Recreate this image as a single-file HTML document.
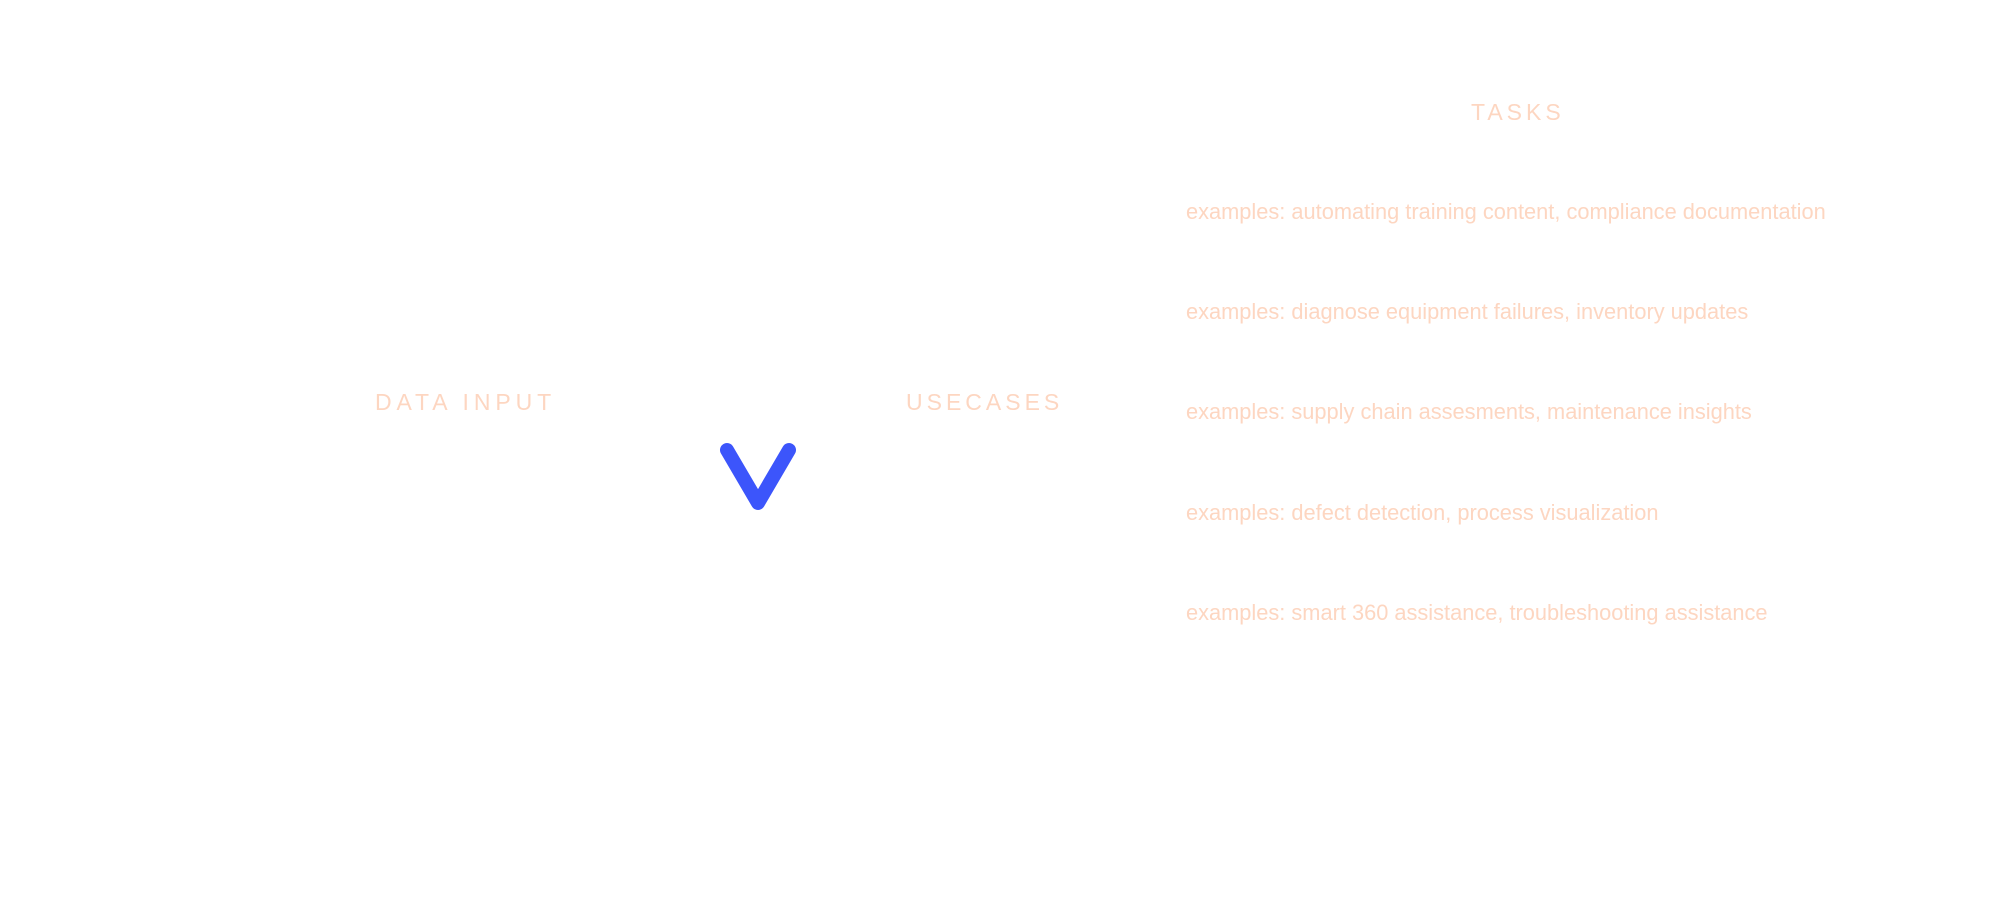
<!DOCTYPE html>
<html><head><meta charset="utf-8"><style>
body{margin:0;width:2000px;height:905px;background:#fff;position:relative;overflow:hidden;font-family:"Liberation Sans",sans-serif;color:#fdd6c1}
.h{position:absolute;font-size:23px;letter-spacing:4px;line-height:1;white-space:nowrap}
.e{position:absolute;left:1186px;font-size:21.8px;line-height:1;white-space:nowrap}
</style></head><body>
<div class="h" style="left:375px;top:391px;letter-spacing:4.9px">DATA INPUT</div>
<div class="h" style="left:906px;top:391px">USECASES</div>
<div class="h" style="left:1471px;top:101px">TASKS</div>
<div class="e" style="top:201px">examples: automating training content, compliance documentation</div>
<div class="e" style="top:301px">examples: diagnose equipment failures, inventory updates</div>
<div class="e" style="top:401px">examples: supply chain assesments, maintenance insights</div>
<div class="e" style="top:502px">examples: defect detection, process visualization</div>
<div class="e" style="top:602px">examples: smart 360 assistance, troubleshooting assistance</div>
<svg style="position:absolute;left:0;top:0" width="2000" height="905">
<polyline points="727,450 758,503 789,450" fill="none" stroke="#3c55fb" stroke-width="14" stroke-linecap="round" stroke-linejoin="round"/>
</svg>
</body></html>
